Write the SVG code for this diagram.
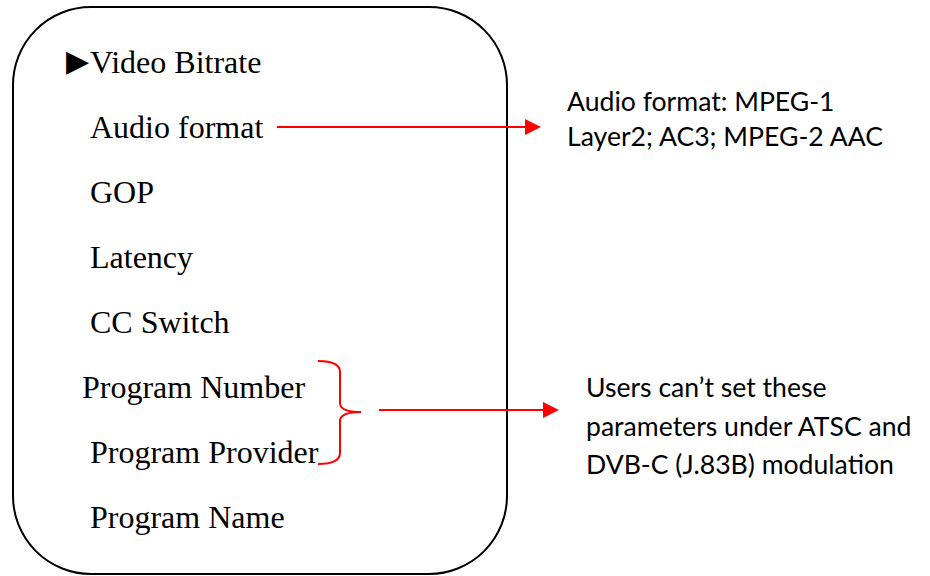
<svg xmlns="http://www.w3.org/2000/svg" width="930" height="576" viewBox="0 0 930 576">
<defs>
<style>
.item{font-family:"Liberation Serif","Times New Roman",serif;font-size:32px;fill:#000}
.note{font-family:Lato,"Liberation Sans",sans-serif;font-size:26.6px;fill:#000}
.red{stroke:#ff0000;stroke-width:2;fill:none}
.head{fill:#ff0000;stroke:none}
</style>
</defs>
<rect width="930" height="576" fill="#fff"/>
<g id="menu">
<rect x="13" y="7" width="494" height="567" rx="78" ry="78" fill="#fff" stroke="#000" stroke-width="2"/>
<text x="89" y="71" text-anchor="end" style="font-family:'DejaVu Sans',sans-serif;font-size:30px;fill:#000">▶</text>
<text x="90" y="73" class="item">Video Bitrate</text>
<text x="90" y="138" class="item">Audio format</text>
<text x="90" y="203" class="item">GOP</text>
<text x="90" y="268" class="item">Latency</text>
<text x="90" y="333" class="item">CC Switch</text>
<text x="82" y="398" class="item">Program Number</text>
<text x="90" y="463" class="item">Program Provider</text>
<text x="90" y="528" class="item">Program Name</text>
</g>
<g id="note-audio">
<text class="note"><tspan x="567" y="111">Audio format: MPEG-1</tspan><tspan x="567" y="146">Layer2; AC3; MPEG-2 AAC</tspan></text>
</g>
<g id="note-atsc">
<text class="note"><tspan x="586" y="397">Users can’t set these</tspan><tspan x="586" y="436">parameters under ATSC and</tspan><tspan x="586" y="474">DVB-C (J.83B) modulation</tspan></text>
</g>
<g id="connectors">
<line x1="277" y1="127" x2="526" y2="127" class="red"/>
<polygon points="525,119 541,127 525,135" class="head"/>
<path d="M318,361 Q340,361 340,372 V403 Q340,412 361,412 Q340,412 340,421 V453 Q340,464 318,464" class="red"/>
<line x1="379" y1="410" x2="544" y2="410" class="red"/>
<polygon points="543,402 559,410 543,418" class="head"/>
</g>
</svg>
